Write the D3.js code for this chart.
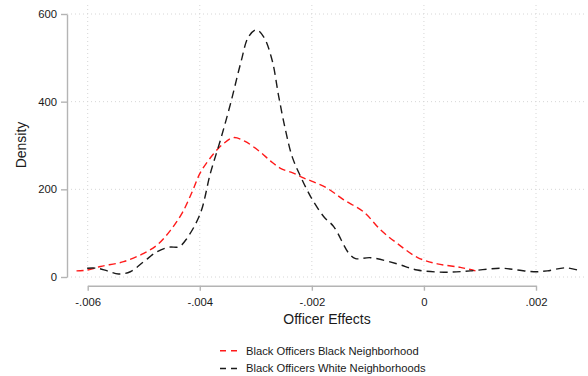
<!DOCTYPE html>
<meta charset="utf-8">
<head>
<style>
  body { margin: 0; background: #fff; }
  svg text { font-family: "Liberation Sans", Arial, sans-serif; fill: #1a1a1a; }
  .axis path, .axis line { stroke: #b4b4b4; stroke-width: 1.4; }
  .grid line { stroke: #d6d6d6; stroke-width: 1; stroke-dasharray: 1,3; }
</style>
</head>
<body>
<div id="chart"></div>
<script src="https://d3js.org/d3.v7.min.js"></script>
<script>
// x values (officer effect) and density for each series
var redX = [-0.0062, -0.0060, -0.00577, -0.00536, -0.0050, -0.00476, -0.00452, -0.00431, -0.00413, -0.00399,
            -0.00376, -0.00358, -0.0034, -0.0032, -0.00292, -0.00274, -0.00256, -0.00233, -0.00215, -0.00197,
            -0.00172, -0.00143, -0.00108, -0.00077, -0.00048, -0.00012, 0.00024, 0.00065, 0.00092];
var redY = [14, 16, 24, 35, 54, 73, 107, 147, 196, 238,
            280, 304, 318, 310, 285, 265, 248, 237, 226, 217,
            202, 176, 149, 107, 77, 45, 30, 22, 14];

var blackX = [-0.00601, -0.00583, -0.00565, -0.00545, -0.00524, -0.0050, -0.00476, -0.00455, -0.00437, -0.00423,
              -0.00399, -0.00381, -0.00363, -0.00345, -0.00327, -0.00313, -0.00299, -0.00286, -0.00271, -0.00259,
              -0.00247, -0.00235, -0.0022, -0.00202, -0.00179, -0.00161, -0.00134, -0.00122, -0.00095, -0.00048,
              -0.00012, 0.00036, 0.00083, 0.00137, 0.00167, 0.00196, 0.0022, 0.00253, 0.0028];
var blackY = [20, 20, 14, 7, 12, 35, 58, 68, 69, 88,
              145, 237, 313, 396, 488, 548, 564, 548, 495, 411,
              335, 274, 229, 183, 138, 115, 54, 42, 44, 30,
              16, 11, 14, 20, 16, 12, 14, 21, 14];

var xTicks = [-0.006, -0.004, -0.002, 0, 0.002];
var xTickLabels = ["-.006", "-.004", "-.002", "0", ".002"];
var yTicks = [0, 200, 400, 600];
var yTickLabels = ["0", "200", "400", "600"];

var seriesNames = ["Black Officers Black Neighborhood", "Black Officers White Neighborhoods"];

var W = 588, H = 376;
var svg = d3.select("#chart").append("svg")
  .attr("width", W).attr("height", H);

var x = d3.scaleLinear().domain([-0.006, 0.002]).range([87.7, 536]);
var y = d3.scaleLinear().domain([0, 600]).range([277, 14]);

// dotted grid
var grid = svg.append("g").attr("class", "grid");
grid.selectAll(".h").data(yTicks).enter().append("line")
  .attr("x1", 67).attr("x2", 586)
  .attr("y1", function(d) { return y(d); }).attr("y2", function(d) { return y(d); });
grid.selectAll(".v").data(xTicks).enter().append("line")
  .attr("x1", function(d) { return x(d); }).attr("x2", function(d) { return x(d); })
  .attr("y1", 5).attr("y2", y(0));

// axes
var xAxis = svg.append("g").attr("class", "axis")
  .attr("transform", "translate(0,285.7)")
  .call(d3.axisBottom(x).tickValues(xTicks).tickSize(5).tickSizeOuter(0)
    .tickFormat(function(d, i) { return xTickLabels[i]; }));
xAxis.selectAll("text").attr("font-size", 11.3).attr("dy", "1.1em").attr("fill", "#1a1a1a");

var yAxis = svg.append("g").attr("class", "axis")
  .attr("transform", "translate(67,0)")
  .call(d3.axisLeft(y).tickValues(yTicks).tickSize(6).tickSizeOuter(0)
    .tickFormat(function(d, i) { return yTickLabels[i]; }));
yAxis.selectAll("text").attr("font-size", 11.3).attr("x", -10).attr("fill", "#1a1a1a");
svg.selectAll(".axis .domain").attr("fill", "none");

// axis titles
svg.append("text")
  .attr("x", 327).attr("y", 323.5)
  .attr("text-anchor", "middle")
  .attr("font-size", 14)
  .text("Officer Effects");

svg.append("text")
  .attr("transform", "translate(26,145) rotate(-90)")
  .attr("text-anchor", "middle")
  .attr("font-size", 14)
  .text("Density");

// density lines
var line = d3.line()
  .x(function(d) { return x(d[0]); })
  .y(function(d) { return y(d[1]); })
  .curve(d3.curveCatmullRom.alpha(0.5));

var redData = redX.map(function(v, i) { return [v, redY[i]]; });
var blackData = blackX.map(function(v, i) { return [v, blackY[i]]; });

svg.append("path")
  .attr("d", line(redData))
  .attr("fill", "none")
  .attr("stroke", "#ff1a1a")
  .attr("stroke-width", 1.4)
  .attr("stroke-dasharray", "7,4");

svg.append("path")
  .attr("d", line(blackData))
  .attr("fill", "none")
  .attr("stroke", "#1a1a1a")
  .attr("stroke-width", 1.4)
  .attr("stroke-dasharray", "8,5");

// legend
var legendColors = ["#ff1a1a", "#1a1a1a"];
var legend = svg.selectAll(".legend").data(seriesNames).enter().append("g")
  .attr("transform", function(d, i) { return "translate(220," + (350.7 + i * 17.8) + ")"; });
legend.append("line")
  .attr("x1", 0).attr("x2", 17).attr("y1", 0).attr("y2", 0)
  .attr("stroke", function(d, i) { return legendColors[i]; })
  .attr("stroke-width", 1.4)
  .attr("stroke-dasharray", "6,5");
legend.append("text")
  .attr("x", 26).attr("y", 0).attr("dy", "0.35em")
  .attr("font-size", 11.2)
  .text(function(d) { return d; });
</script>
</body>
